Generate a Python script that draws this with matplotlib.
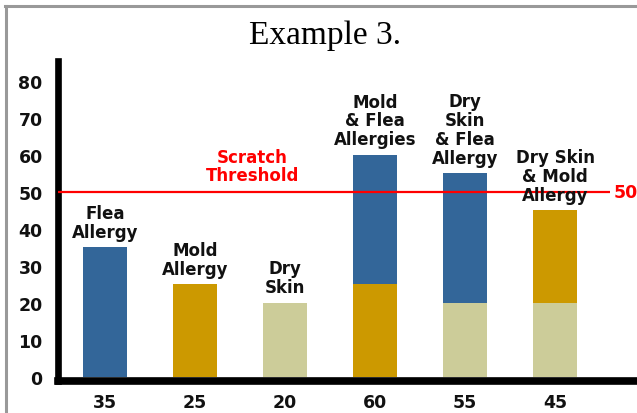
import matplotlib
matplotlib.use("Agg")
import matplotlib.pyplot as plt
from matplotlib.lines import Line2D

# Data
categories = ["Flea\nAllergy", "Mold\nAllergy", "Dry\nSkin",
              "Mold\n& Flea\nAllergies", "Dry\nSkin\n& Flea\nAllergy",
              "Dry Skin\n& Mold\nAllergy"]
dry_skin = [0, 0, 20, 0, 20, 20]
mold = [0, 25, 0, 25, 0, 25]
flea = [35, 0, 0, 35, 35, 0]
totals = [35, 25, 20, 60, 55, 45]
threshold = 50
yticks = [0, 10, 20, 30, 40, 50, 60, 70, 80]

BLUE = "#336699"
GOLD = "#CC9900"
KHAKI = "#CCCC99"
RED = "#FF0000"

W, H = 637, 414
fig = plt.figure(figsize=(W / 100, H / 100), dpi=100)

# axes placed in pixel terms
left_px, right_px, bottom_px, top_px = 58, 637, 382, 62
ax = fig.add_axes([left_px / W, (H - bottom_px) / H,
                   (right_px - left_px) / W, (bottom_px - top_px) / H])

x = list(range(len(categories)))
width = 0.49
font = dict(family="DejaVu Sans", weight="bold")

ax.bar(x, dry_skin, width, color=KHAKI, edgecolor="none", zorder=2)
ax.bar(x, mold, width, bottom=dry_skin, color=GOLD, edgecolor="none", zorder=2)
base2 = [a + b for a, b in zip(dry_skin, mold)]
ax.bar(x, flea, width, bottom=base2, color=BLUE, edgecolor="none", zorder=2)

# category labels above each bar
for xi, tot, lab in zip(x, totals, categories):
    ax.annotate(lab, (xi, tot), xytext=(0, 5), textcoords="offset points",
                ha="center", va="bottom", fontsize=12, linespacing=1.05,
                color="#111111", zorder=4, **font)

# threshold line
ax.plot([-0.6, 5.61], [threshold, threshold], color=RED, lw=1.6, zorder=3,
        solid_capstyle="butt")
ax.annotate(str(threshold), (5.61, threshold), xytext=(3, 0),
            textcoords="offset points", ha="left", va="center",
            fontsize=12.5, color=RED, **font)
ax.text(1.64, 57, "Scratch\nThreshold", ha="center", va="center",
        fontsize=12, color=RED, linespacing=1.05, **font)

ax.set_xlim(-0.522, 5.911)
ax.set_ylim(-1.08, 85.4)
ax.set_yticks(yticks)
ax.set_yticklabels([str(v) for v in yticks], fontsize=12.5, **font)
ax.set_xticks(x)
ax.set_xticklabels([str(t) for t in totals], fontsize=12.5, **font)
ax.tick_params(axis="both", length=0, colors="#111111")
ax.tick_params(axis="y", pad=11)
ax.tick_params(axis="x", pad=9)

for s in ["top", "right"]:
    ax.spines[s].set_visible(False)
ax.spines["left"].set_linewidth(4.8)
ax.spines["bottom"].set_linewidth(5.5)
ax.spines["left"].set_color("black")
ax.spines["bottom"].set_color("black")
ax.spines["left"].set_capstyle("projecting")

# title
fig.text(325 / W, 1 - 36 / H, "Example 3.", ha="center", va="center",
         fontsize=24, family="Liberation Serif")

# outer frame (left and top edges)
fig.add_artist(Line2D([5.5 / W, 5.5 / W], [0, 1 - 6.5 / H],
                      color="#999999", lw=2.2, transform=fig.transFigure))
fig.add_artist(Line2D([4.5 / W, 1], [1 - 6.5 / H, 1 - 6.5 / H],
                      color="#999999", lw=2.2, transform=fig.transFigure))

fig.savefig("out.png", dpi=100)
